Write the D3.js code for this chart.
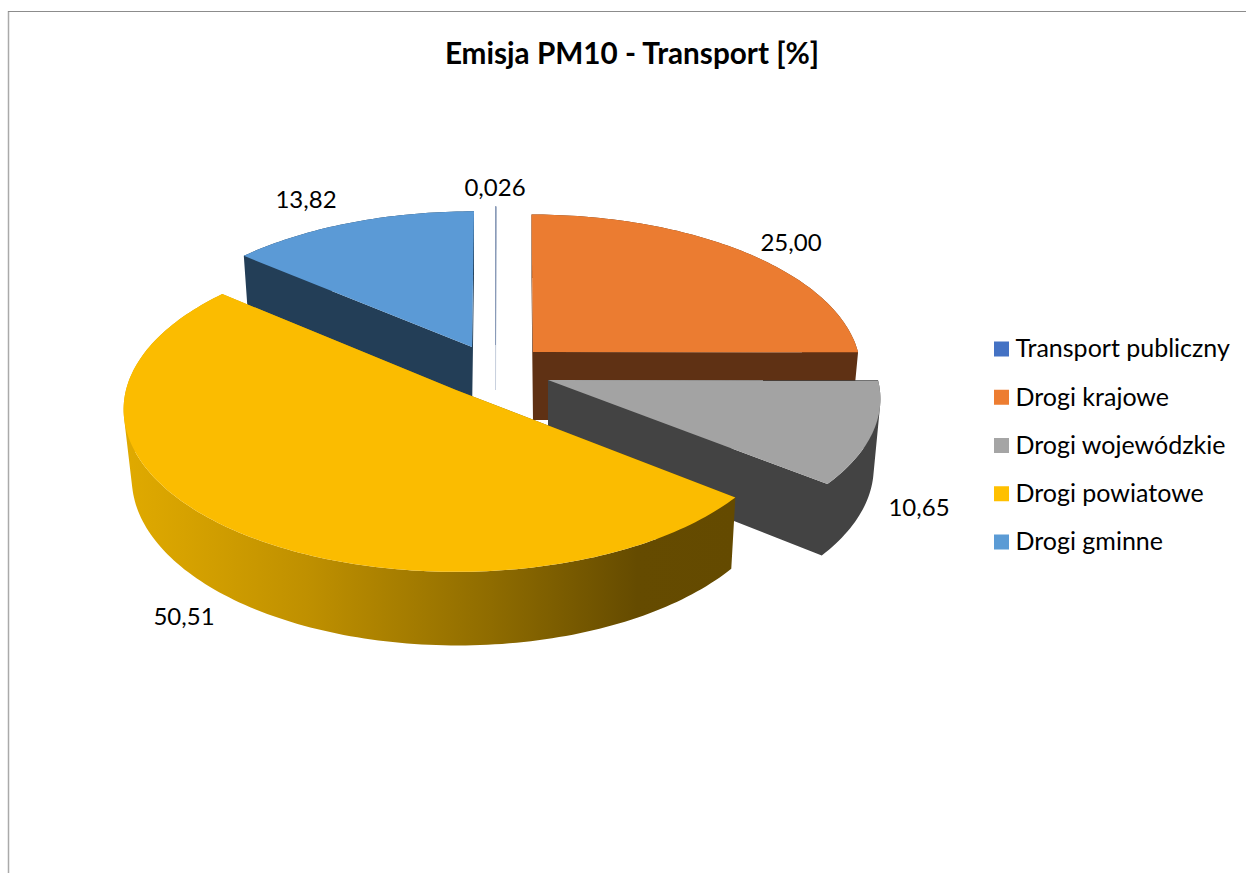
<!DOCTYPE html>
<html>
<head>
<meta charset="utf-8">
<script src="https://cdn.jsdelivr.net/npm/d3@7"></script>
<style>
    html, body { margin: 0; padding: 0; background: #fff; }
    svg { display: block; }
    text { font-family: Lato, "Open Sans", sans-serif; fill: #000; }
</style>
</head>
<body>
<div id="chart"></div>
<script>
const titleText = "Emisja PM10 - Transport [%]";
const categories = ["Transport publiczny", "Drogi krajowe", "Drogi wojewódzkie", "Drogi powiatowe", "Drogi gminne"];
const values = [0.026, 25.00, 10.65, 50.51, 13.82];
const valueLabels = ["0,026", "25,00", "10,65", "50,51", "13,82"];
const topColors = ["#4472c4", "#eb7c31", "#a3a3a3", "#fbbc00", "#5b9ad6"];
const wallColors = ["#c9d1de", "#5f3114", "#434343", "#654b00", "#233e57"];
const legendColors = ["#4472c4", "#ed7d31", "#a5a5a5", "#ffc000", "#5b9bd5"];

const width = 1246;
const height = 873;

// where each exploded slice ended up, fitted by eye: apex x/y, radius, flattened radius, wall height
const sliceApexX = [495.5, 533, 548, 456, 472];
const sliceApexY = [345, 352, 380, 390, 347];
const sliceRadius = [325, 325, 330, 330, 324];
const sliceFlat = [155, 154, 155, 160, 152];
const sliceDepth = [45, 68, 68, 68, 68];
const sliceLean = [0, -2, 0, 0, 2];
const sliceBottomShift = [0, 0, 0, 1.5, 0];
const labelX = [495, 791, 919, 184, 306];
const labelY = [188, 243, 508, 617, 200];

const perspective = 0.12;
const bottomShrink = 0.98;

const svg = d3.select("#chart")
    .append("svg")
    .attr("width", width)
    .attr("height", height);

// Chart frame, only left and top are visible in the picture
svg.append("line").attr("x1", 8.5).attr("x2", 8.5).attr("y1", 11).attr("y2", height)
    .attr("stroke", "#aaaaaa").attr("stroke-width", 1.5);
svg.append("line").attr("x1", 8).attr("x2", width).attr("y1", 11.5).attr("y2", 11.5)
    .attr("stroke", "#8c8c8c").attr("stroke-width", 1);

svg.append("text")
    .attr("x", 632)
    .attr("y", 64)
    .attr("text-anchor", "middle")
    .attr("font-size", 29.7)
    .attr("font-weight", 700)
    .text(titleText);

// Gradient for the yellow front wall
const defs = svg.append("defs");
const gradient = defs.append("linearGradient")
    .attr("id", "yellowWall")
    .attr("gradientUnits", "userSpaceOnUse")
    .attr("x1", 124).attr("x2", 735).attr("y1", 0).attr("y2", 0);
[[0, "#e0aa00"], [0.1, "#d6a200"], [0.3, "#bf9000"], [0.6, "#8f6c00"], [0.84, "#654b00"], [1, "#644a00"]]
    .forEach(s => gradient.append("stop").attr("offset", s[0]).attr("stop-color", s[1]));

const pie = d3.pie().sort(null).value(d => d);
const arcs = pie(values);
const line = d3.line();

function scaleAt(a) {
    return 1 / (1 + perspective * Math.cos(a));
}

// point on the rim, top face
function topPoint(i, a) {
    const s = scaleAt(a);
    return [
        sliceApexX[i] + sliceRadius[i] * Math.sin(a) * s + sliceLean[i] * Math.max(Math.cos(a), 0),
        sliceApexY[i] - sliceFlat[i] * Math.cos(a) * s
    ];
}

// same point on the lower face
function bottomPoint(i, a) {
    const s = scaleAt(a);
    return [
        sliceApexX[i] + sliceBottomShift[i] + bottomShrink * sliceRadius[i] * Math.sin(a) * s + sliceLean[i] * Math.max(Math.cos(a), 0),
        sliceApexY[i] - bottomShrink * sliceFlat[i] * Math.cos(a) * s + sliceDepth[i] * s
    ];
}

function angles(d) {
    const n = Math.max(2, Math.ceil((d.endAngle - d.startAngle) / 0.02));
    return d3.range(n + 1).map(k => d.startAngle + (d.endAngle - d.startAngle) * k / n);
}

// same winding for every quad, so they merge without seams in one nonzero path
function quadPath(quad) {
    const pts = d3.polygonArea(quad) < 0 ? quad.slice().reverse() : quad;
    return line(pts) + "Z";
}

// back slices first so that the front ones cover them
const drawOrder = [0, 1, 4, 2, 3];

drawOrder.forEach(i => {
    const d = arcs[i];
    const g = svg.append("g");
    const apexTop = [sliceApexX[i], sliceApexY[i]];
    const apexBottom = [sliceApexX[i] + sliceBottomShift[i], sliceApexY[i] + sliceDepth[i]];
    const thin = i === 0;
    const rim = angles(d);

    const faces = [d.startAngle, d.endAngle].map(a => [apexTop, topPoint(i, a), bottomPoint(i, a), apexBottom]);
    const sides = d3.pairs(rim).map(([a0, a1]) => [topPoint(i, a0), topPoint(i, a1), bottomPoint(i, a1), bottomPoint(i, a0)]);

    g.append("path")
        .attr("d", faces.concat(sides).map(quadPath).join(""))
        .attr("fill", i === 3 ? "url(#yellowWall)" : wallColors[i])
        .attr("stroke", thin ? wallColors[0] : "none")
        .attr("stroke-width", thin ? 1 : 0);

    const top = [apexTop].concat(rim.map(a => topPoint(i, a)));
    g.append("path")
        .attr("d", line(top) + "Z")
        .attr("fill", thin ? "#8a9bb8" : topColors[i])
        .attr("stroke", thin ? "#8a9bb8" : "none")
        .attr("stroke-width", thin ? 1 : 0);
});

// Value labels
svg.append("g")
    .selectAll("text")
    .data(valueLabels)
    .join("text")
    .attr("x", (d, i) => labelX[i])
    .attr("y", (d, i) => labelY[i])
    .attr("dy", "0.35em")
    .attr("text-anchor", "middle")
    .attr("font-size", 24)
    .text(d => d);

// Legend
const legendY = d3.scalePoint().domain(categories).range([349, 542]);
const legend = svg.append("g")
    .selectAll("g")
    .data(categories)
    .join("g")
    .attr("transform", d => `translate(994,${legendY(d)})`);

legend.append("rect")
    .attr("x", 0)
    .attr("y", -7.5)
    .attr("width", 15)
    .attr("height", 15)
    .attr("fill", (d, i) => legendColors[i]);

legend.append("text")
    .attr("x", 21.5)
    .attr("dy", "0.33em")
    .attr("font-size", 25)
    .text(d => d);
</script>
</body>
</html>
